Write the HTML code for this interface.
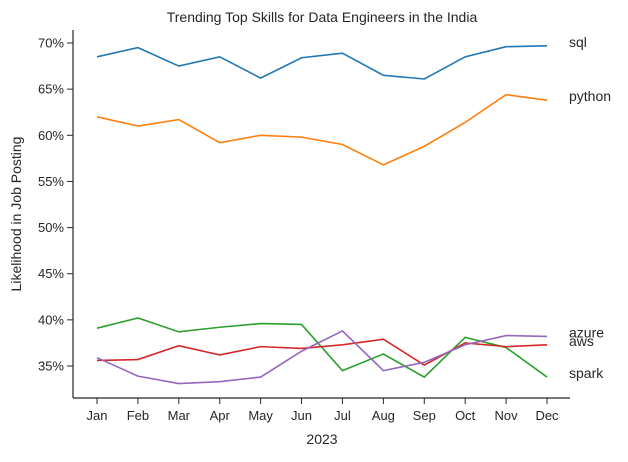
<!DOCTYPE html>
<html><head><meta charset="utf-8"><style>
body{margin:0;background:#fff;font-family:"Liberation Sans","DejaVu Sans",sans-serif}
svg text{fill:#262626}
</style></head><body>
<svg id="chart" width="628" height="457"></svg>
<script>
const months=["Jan","Feb","Mar","Apr","May","Jun","Jul","Aug","Sep","Oct","Nov","Dec"];
const sqlVals=[68.5,69.5,67.5,68.5,66.2,68.4,68.9,66.5,66.1,68.5,69.6,69.7];
const pythonVals=[62.0,61.0,61.7,59.2,60.0,59.8,59.0,56.8,58.8,61.4,64.4,63.8];
const sparkVals=[39.1,40.2,38.7,39.2,39.6,39.5,34.5,36.3,33.8,38.1,37.0,33.8];
const awsVals=[35.6,35.7,37.2,36.2,37.1,36.9,37.3,37.9,35.1,37.5,37.1,37.3];
const azureVals=[35.9,33.9,33.1,33.3,33.8,36.6,38.8,34.5,35.4,37.3,38.3,38.2];
const yTicks=[35,40,45,50,55,60,65,70];
const series=[["sql",sqlVals,"#1f77b4"],["python",pythonVals,"#ff7f0e"],["spark",sparkVals,"#2ca02c"],["aws",awsVals,"#d62728"],["azure",azureVals,"#9467bd"]];
const NS="http://www.w3.org/2000/svg";
const svg=document.getElementById("chart");
const x=i=>97+i*(547-97)/11;
const y=v=>366-(v-35)*(366-43)/35;
function el(t,a,txt){const e=document.createElementNS(NS,t);for(const k in a)e.setAttribute(k,a[k]);if(txt!==undefined)e.textContent=txt;svg.appendChild(e);return e;}
let e;
e=el("line",{x1:73,y1:30,x2:73,y2:398,stroke:"#262626","stroke-width":1.2});

e=el("line",{x1:73,y1:398,x2:570,y2:398,stroke:"#262626","stroke-width":1.2});

yTicks.forEach(t=>{
 e=el("line",{x1:67,y1:y(t),x2:73,y2:y(t),stroke:"#262626"});
 
 e=el("text",{x:64,y:y(t)+4.5,"text-anchor":"end","font-size":13},t+"%");
 
});
months.forEach((m,i)=>{
 e=el("line",{x1:x(i),y1:398,x2:x(i),y2:404,stroke:"#262626"});
 
 e=el("text",{x:x(i),y:420,"text-anchor":"middle","font-size":13},m);
 
});
series.forEach(([n,v,c])=>{
 e=el("polyline",{points:v.map((d,i)=>x(i)+","+y(d)).join(" "),fill:"none",stroke:c,"stroke-width":1.6});
 
 e=el("text",{x:569,y:y(v[11])+1,"font-size":14},n);
 
});
e=el("text",{x:322,y:22,"text-anchor":"middle","font-size":14},"Trending Top Skills for Data Engineers in the India");

e=el("text",{x:322,y:444,"text-anchor":"middle","font-size":14},"2023");

e=el("text",{x:21,y:214,"text-anchor":"middle","font-size":14,transform:"rotate(-90 21 214)"},"Likelihood in Job Posting");

</script>
</body></html>
